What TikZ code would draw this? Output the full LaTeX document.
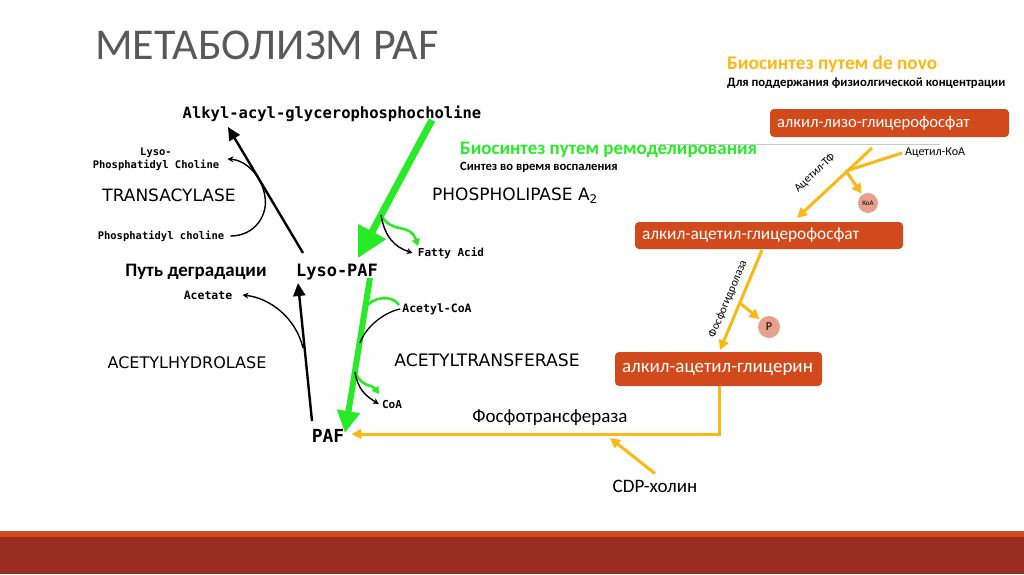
\documentclass[tikz,border=0pt]{standalone}
\usepackage{fontspec}
\setmainfont{Carlito}
\newfontfamily\scanmono{DejaVu Sans Mono}
\newfontfamily\scansans{DejaVu Sans}
\usetikzlibrary{positioning, arrows.meta}
\definecolor{titlegray}{RGB}{89,89,89}
\definecolor{novogold}{RGB}{250,184,20}
\definecolor{remgreen}{RGB}{40,235,40}
\definecolor{boxred}{RGB}{210,74,28}
\definecolor{circsalmon}{RGB}{230,160,140}
\definecolor{barorange}{RGB}{211,74,28}
\definecolor{barred}{RGB}{155,44,32}
\definecolor{rulegray}{RGB}{200,200,200}

\begin{document}
\begin{tikzpicture}[x=1pt, y=-1pt,
    scanlbl/.style={font=\scanmono\bfseries\fontsize{#1}{#1}\selectfont, inner sep=0pt},
    enzyme/.style={font=\scansans\fontsize{#1}{#1}\selectfont, inner sep=0pt},
    slide/.style={font=\fontsize{#1}{#1}\selectfont, inner sep=0pt},
    slidebold/.style={font=\bfseries\fontsize{#1}{#1}\selectfont, inner sep=0pt},
    pathbox/.style={rectangle, rounded corners=4pt, fill=boxred, text=white, align=left, inner xsep=7pt, inner ysep=0pt},
    sidegroup/.style={circle, fill=circsalmon, inner sep=0pt},
    blackarrow/.style={-{Triangle[length=13pt, width=12pt]}, line width=2.4pt},
    thincurve/.style={line width=1.4pt, -{Stealth[length=6pt, width=6pt]}},
    greenarrow/.style={draw=remgreen, line width=7pt, -{Triangle[length=30pt, width=30pt]}},
    greenarrowsm/.style={draw=remgreen, line width=6pt, -{Triangle[length=22pt, width=22pt]}},
    greencurve/.style={draw=remgreen, line width=2.6pt, -{Triangle[length=7pt, width=8pt]}},
    goldline/.style={draw=novogold, line width=3pt},
    goldarrow/.style={goldline, -{Triangle[length=10pt, width=10pt]}}
]
    \useasboundingbox (0,0) rectangle (1024,574);

    % title and footer
    \node[slide=44, text=titlegray, anchor=west] (title) at (95,45) {МЕТАБОЛИЗМ PAF};
    \fill[barorange] (0,531) rectangle (1024,537);
    \fill[barred] (0,537) rectangle (1024,574);

    % scanned scheme, left
    \node[scanlbl=15.5] (alkyl) at (332,114) {Alkyl-acyl-glycerophosphocholine};
    \node[scanlbl=10.5, align=center] (lysopc) at (156,159) {Lyso-\\[1pt]Phosphatidyl Choline};
    \node[enzyme=17] (transacyl) at (169,195) {TRANSACYLASE};
    \node[scanlbl=10.5] (pc) at (161,236) {Phosphatidyl choline};
    \node[slidebold=19] (degr) at (196,272) {Путь деградации};
    \node[scanlbl=17] (lysopaf) at (337,272) {Lyso-PAF};
    \node[scanlbl=11] (fatty) at (451,253) {Fatty Acid};
    \node[enzyme=17, anchor=west] (phlip) at (432,196) {PHOSPHOLIPASE A\textsubscript{2}};
    \node[scanlbl=11.5] (acetate) at (208,295) {Acetate};
    \node[enzyme=16] (acethyd) at (187,363) {ACETYLHYDROLASE};
    \node[scanlbl=11.5] (acoa) at (437,309) {Acetyl-CoA};
    \node[enzyme=17.2] (acettr) at (487,360) {ACETYLTRANSFERASE};
    \node[scanlbl=11] (coa) at (392,404) {CoA};
    \node[scanlbl=18] (paf) at (328,436) {PAF};

    \coordinate (lpA) at (303,253);
    \coordinate (alA) at (228,127);
    \coordinate (pfA) at (312,421);
    \coordinate (lpB) at (298,283);
    \coordinate (ahJ) at (303,348);
    \draw[blackarrow] (lpA) -- (alA);
    \draw[blackarrow] (pfA) -- (lpB);
    \draw[thincurve] ([xshift=6pt]pc.east) .. controls (255,236) and (268,215) .. (265,197)
        .. controls (262,175) and (245,160) .. ([xshift=8pt]lysopc.east);
    \draw[thincurve] (ahJ) .. controls (296,318) and (270,298) .. ([xshift=10pt]acetate.east);

    % remodelling branch
    \coordinate (grA) at (432,120);
    \coordinate (grB) at (358,258);
    \coordinate (grJ) at (381,215);
    \coordinate (grC) at (370,278);
    \coordinate (grD) at (345,433);
    \draw[greenarrow] (grA) -- (grB);
    \draw[greencurve] (grJ) .. controls (392,235) and (410,222) .. (418,246);
    \draw[thincurve] (grJ) .. controls (385,238) and (395,247) .. ([xshift=-5pt]fatty.west);
    \draw[greenarrowsm] (grC) -- (grD);
    \draw[remgreen, line width=2.6pt] (365,308) .. controls (372,297) and (392,294) .. (399,305);
    \draw[line width=1.3pt] ([xshift=-2pt]acoa.west) .. controls (385,312) and (366,326) .. (360,343);
    \draw[greencurve] (355,372) .. controls (362,388) and (372,384) .. (379,394);
    \draw[thincurve] (355,372) .. controls (358,390) and (366,396) .. ([xshift=-3pt]coa.west);

    % de novo branch, right
    \node[slidebold=19.3, text=novogold, anchor=west] (novo) at (727,64) {Биосинтез путем de novo};
    \node[slidebold=12.7, anchor=west] (novosub) at (727,83) {Для поддержания физиолгической концентрации};
    \node[slidebold=19, text=remgreen, anchor=west] (remod) at (460,150) {Биосинтез путем ремоделирования};
    \node[slidebold=12.6, anchor=west] (remodsub) at (460,167) {Синтез во время воспаления};
    \draw[rulegray, line width=0.6pt] (657,144) -- (940,144);

    \node[pathbox, text width=225pt, minimum height=28pt, font=\fontsize{16.6}{16.6}\selectfont] (lizo) at (889.5,123) {алкил-лизо-глицерофосфат};
    \node[pathbox, text width=254pt, minimum height=27pt, font=\fontsize{17.3}{17.3}\selectfont] (aceph) at (769,235.5) {алкил-ацетил-глицерофосфат};
    \node[pathbox, text width=193pt, minimum height=34pt, font=\fontsize{19}{19}\selectfont] (acgl) at (718.5,369) {алкил-ацетил-глицерин};

    \node[sidegroup, minimum size=20pt, font=\fontsize{7}{7}\selectfont] (koa) at (868,203) {КоА};
    \node[sidegroup, minimum size=22pt, font=\fontsize{12}{12}\selectfont] (pgr) at (769,327) {P};
    \node[slide=12, anchor=west, inner sep=3pt] (ackoa) at (902,153) {Ацетил-КоА};
    \node[slide=11.5, rotate=43] (actf) at (815,173) {Ацетил-ТФ};
    \node[slide=11.5, rotate=67] (phgidr) at (728,299) {Фосфогидролаза};
    \node[slide=19] (ptrans) at (550,418) {Фосфотрансфераза};
    \node[slide=19] (cdp) at (655,486) {CDP-холин};

    \coordinate (atA) at (872,148);
    \coordinate (atB) at (797,218);
    \coordinate (atJ) at (846,171);
    \coordinate (phA) at (762,250);
    \coordinate (phB) at (720,350);
    \coordinate (phJ) at (740,303);
    \coordinate (corner) at (719,434);
    \coordinate (cdptip) at (610,438);
    \draw[goldarrow] (atA) -- (atB);
    \draw[goldline] (ackoa.west) -- (atJ);
    \draw[goldarrow, shorten >=1pt] (atJ) -- (koa);
    \draw[goldarrow] (phA) -- (phB);
    \draw[goldarrow, shorten >=1pt] (phJ) -- (pgr);
    \draw[goldarrow, shorten >=7pt] (acgl.south -| corner) -- (corner) -- (paf.east |- corner);
    \draw[goldarrow] ([yshift=6pt]cdp.north) -- (cdptip);
\end{tikzpicture}
\end{document}
